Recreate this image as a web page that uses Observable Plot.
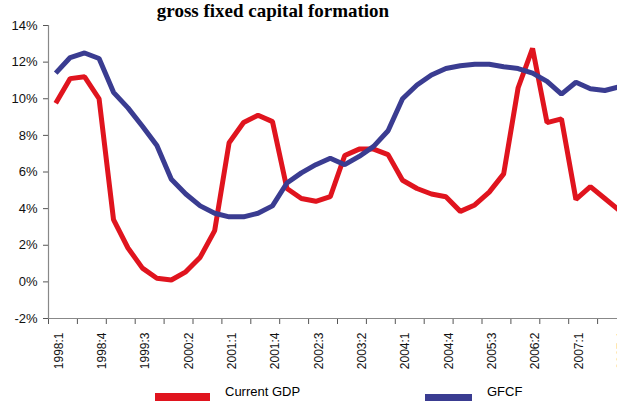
<!DOCTYPE html>
<html><head><meta charset="utf-8">
<script src="https://cdn.jsdelivr.net/npm/d3@7"></script>
<script src="https://cdn.jsdelivr.net/npm/@observablehq/plot@0.6"></script>
<style>
html,body{margin:0;padding:0;background:#fff}
body{overflow:hidden;width:617px;height:401px;position:relative;font-family:"Liberation Sans",Arial,sans-serif}
#title{position:absolute;left:0;top:1px;width:546px;text-align:center;font-weight:bold;font-size:19px;line-height:20px;font-family:"Liberation Serif","Times New Roman",serif;color:#000;z-index:2}
#chart{position:absolute;left:0;top:0}
.leg{position:absolute;font-size:13px;line-height:15px;color:#000}
.sw{position:absolute;height:8px}
</style>
</head><body>
<div id="title">gross fixed capital formation</div>
<div id="chart"></div>
<div class="sw" style="left:155px;top:393px;width:55px;background:#e0141e"></div>
<div class="leg" style="left:225px;top:384px">Current GDP</div>
<div class="sw" style="left:425px;top:394px;width:47px;background:#3a3c91"></div>
<div class="leg" style="left:487px;top:384px">GFCF</div>
<script>
const quarters = [];
for (let y = 1998; y <= 2007; y++) for (let q = 1; q <= 4; q++) quarters.push(y + ":" + q);

const currentGDP = [9.75, 11.1, 11.2, 10.0, 3.4, 1.85, 0.75, 0.2, 0.1, 0.55,
  1.35, 2.8, 7.6, 8.7, 9.1, 8.75, 5.1, 4.55, 4.4, 4.65,
  6.9, 7.25, 7.25, 6.95, 5.55, 5.1, 4.8, 4.65, 3.85, 4.2,
  4.9, 5.9, 10.6, 12.75, 8.7, 8.9, 4.5, 5.2, 4.55, 3.9];

const gfcf = [11.4, 12.25, 12.5, 12.2, 10.35, 9.5, 8.5, 7.45, 5.6, 4.8,
  4.15, 3.75, 3.55, 3.55, 3.75, 4.15, 5.4, 5.95, 6.4, 6.75,
  6.4, 6.85, 7.4, 8.25, 10.0, 10.75, 11.3, 11.65, 11.8, 11.88,
  11.88, 11.75, 11.65, 11.4, 10.95, 10.25, 10.9, 10.55, 10.45, 10.65];

const yTicks = [-2, 0, 2, 4, 6, 8, 10, 12, 14];
const labelIdx = d3.range(0, quarters.length, 3);
const tickIdx = d3.range(-0.5, quarters.length, 2);

const gdpData = currentGDP.map((v, i) => ({i, v}));
const gfcfData = gfcf.map((v, i) => ({i, v}));

const chart = Plot.plot({
  width: 617,
  height: 380,
  marginTop: 25,
  marginBottom: 62,
  marginLeft: 48,
  marginRight: -9,
  style: {fontFamily: "Liberation Sans, Arial, sans-serif", fontSize: "12px", background: "transparent", overflow: "visible"},
  x: {domain: [-0.5, 39.5], axis: null},
  y: {domain: [-2, 14], axis: null},
  marks: [
    Plot.axisY({ticks: yTicks, tickFormat: d => d + "%", tickSize: 5, tickPadding: 6, stroke: "#555", fontSize: 13, color: "#111", label: null}),
    Plot.axisX({ticks: tickIdx, tickFormat: () => "", tickSize: 6, stroke: "#555", label: null}),
    Plot.axisX({ticks: labelIdx, tickFormat: i => quarters[i], tickSize: 0, tickPadding: 14, tickRotate: -90, dx: 3, fontSize: 12, color: "#111", label: null}),
    Plot.ruleY([-2], {stroke: "#888", strokeWidth: 1.2}),
    Plot.ruleX([-0.5], {y1: -2, y2: 14, stroke: "#888", strokeWidth: 1.2}),
    Plot.line(gdpData, {x: "i", y: "v", stroke: "#e0141e", strokeWidth: 5, strokeLinejoin: "miter", strokeLinecap: "butt"}),
    Plot.line(gfcfData, {x: "i", y: "v", stroke: "#3a3c91", strokeWidth: 5, strokeLinejoin: "miter", strokeLinecap: "butt"})
  ]
});
document.getElementById("chart").appendChild(chart);
</script>
</body></html>
